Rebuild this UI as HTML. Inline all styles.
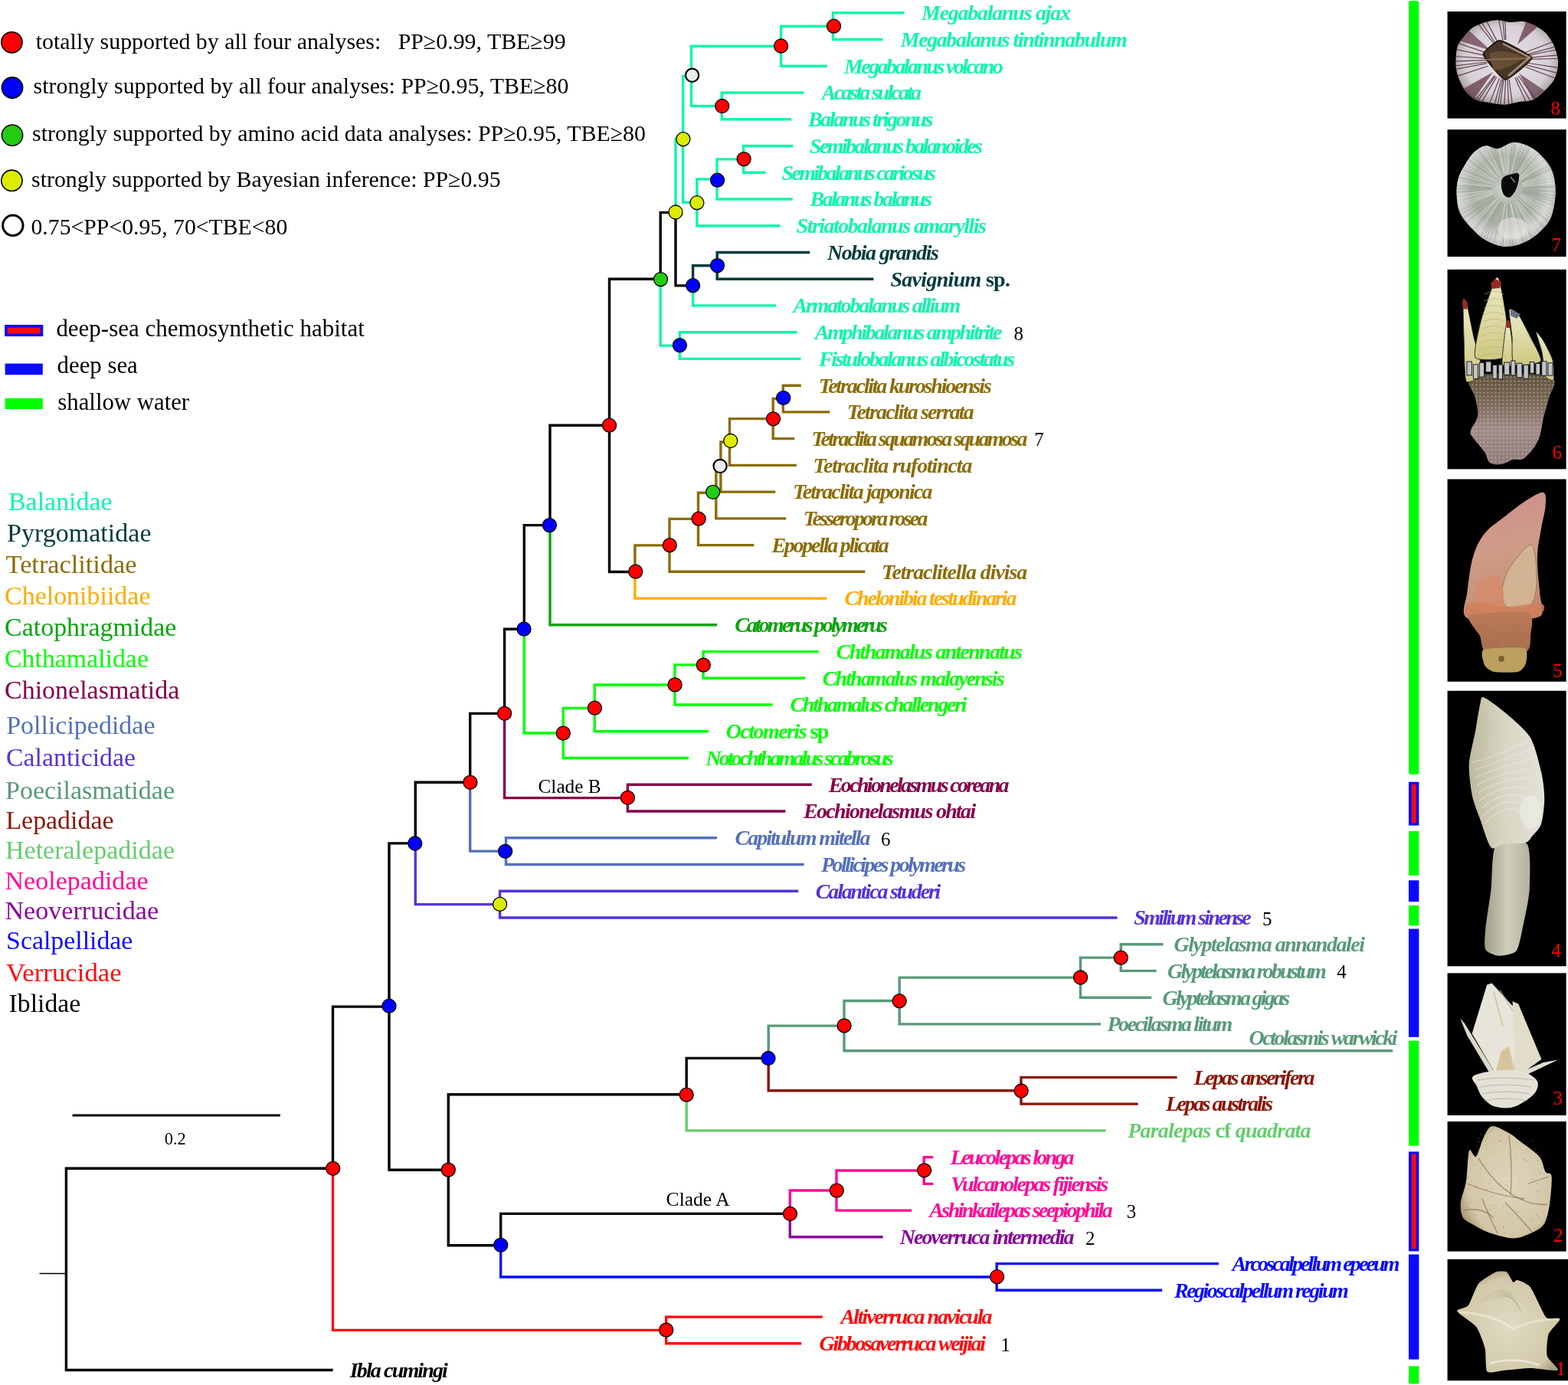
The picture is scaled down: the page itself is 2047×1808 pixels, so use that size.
<!DOCTYPE html><html><head><meta charset="utf-8"><title>Phylogeny</title>
<style>html,body{margin:0;padding:0;background:#fff;overflow:hidden;}svg{display:block;}.sp{font-family:"Liberation Serif",serif;font-weight:bold;font-style:italic;font-size:28px;}.rm{font-family:"Liberation Serif",serif;font-weight:normal;font-style:normal;}</style></head><body>
<svg width="2047" height="1808" viewBox="0 0 2047 1808">
<rect x="0" y="0" width="2047" height="1808" fill="#fff"/>
<g class="rm" font-size="30" fill="#000">
<circle cx="15.4" cy="55.3" r="13.6" fill="#ff0000" stroke="#000" stroke-width="1.6"/>
<text x="46.8" y="64.2" textLength="691.8" lengthAdjust="spacingAndGlyphs">totally supported by all four analyses:   PP≥0.99, TBE≥99</text>
<circle cx="16.0" cy="114.5" r="13.6" fill="#0000ff" stroke="#000" stroke-width="1.6"/>
<text x="43.6" y="122.1" textLength="698.9" lengthAdjust="spacingAndGlyphs">strongly supported by all four analyses: PP≥0.95, TBE≥80</text>
<circle cx="16.0" cy="176.6" r="13.6" fill="#22cc11" stroke="#000" stroke-width="1.6"/>
<text x="42.1" y="184.4" textLength="800.9" lengthAdjust="spacingAndGlyphs">strongly supported by amino acid data analyses: PP≥0.95, TBE≥80</text>
<circle cx="15.4" cy="235.7" r="13.6" fill="#dcec00" stroke="#000" stroke-width="1.6"/>
<text x="41.1" y="244.4" textLength="612.5" lengthAdjust="spacingAndGlyphs">strongly supported by Bayesian inference: PP≥0.95</text>
<circle cx="16.8" cy="294.3" r="13.2" fill="#fff" stroke="#000" stroke-width="3"/>
<text x="40.5" y="305.6" textLength="334.8" lengthAdjust="spacingAndGlyphs">0.75&lt;PP&lt;0.95, 70&lt;TBE&lt;80</text>
</g>
<rect x="6.1" y="424" width="50.2" height="15.1" fill="#0a0aff"/>
<rect x="9.8" y="427.6" width="42.8" height="7.9" fill="#ff0a0a"/>
<rect x="6.6" y="474.6" width="49.2" height="14.7" fill="#0a0aff"/>
<rect x="6.6" y="519.9" width="49.2" height="14.1" fill="#00ff00"/>
<g class="rm" font-size="31" fill="#000">
<text x="73.4" y="439.1" textLength="402.4" lengthAdjust="spacingAndGlyphs">deep-sea chemosynthetic habitat</text>
<text x="74.6" y="486.8" textLength="105.2" lengthAdjust="spacingAndGlyphs">deep sea</text>
<text x="75.3" y="534.5" textLength="171.8" lengthAdjust="spacingAndGlyphs">shallow water</text>
</g>
<g class="rm" font-size="34">
<text x="11.0" y="666.3" fill="#0cf6aa" textLength="135.6" lengthAdjust="spacingAndGlyphs">Balanidae</text>
<text x="9.0" y="706.8" fill="#003a3c" textLength="188.5" lengthAdjust="spacingAndGlyphs">Pyrgomatidae</text>
<text x="7.6" y="747.7" fill="#8b6c06" textLength="170.9" lengthAdjust="spacingAndGlyphs">Tetraclitidae</text>
<text x="6.0" y="789.2" fill="#ffaa00" textLength="190.5" lengthAdjust="spacingAndGlyphs">Chelonibiidae</text>
<text x="6.0" y="829.9" fill="#04a60a" textLength="224.4" lengthAdjust="spacingAndGlyphs">Catophragmidae</text>
<text x="6.0" y="871.0" fill="#00ff00" textLength="187.9" lengthAdjust="spacingAndGlyphs">Chthamalidae</text>
<text x="6.0" y="912.2" fill="#860048" textLength="228.4" lengthAdjust="spacingAndGlyphs">Chionelasmatida</text>
<text x="8.2" y="958.3" fill="#5470bc" textLength="194.3" lengthAdjust="spacingAndGlyphs">Pollicipedidae</text>
<text x="8.1" y="1000.3" fill="#5432dc" textLength="168.8" lengthAdjust="spacingAndGlyphs">Calanticidae</text>
<text x="7.0" y="1042.9" fill="#589a78" textLength="221.0" lengthAdjust="spacingAndGlyphs">Poecilasmatidae</text>
<text x="7.4" y="1082.2" fill="#8b1506" textLength="141.1" lengthAdjust="spacingAndGlyphs">Lepadidae</text>
<text x="7.0" y="1121.3" fill="#66cc6e" textLength="221.0" lengthAdjust="spacingAndGlyphs">Heteralepadidae</text>
<text x="6.5" y="1160.9" fill="#ff0a96" textLength="187.1" lengthAdjust="spacingAndGlyphs">Neolepadidae</text>
<text x="6.5" y="1200.4" fill="#88049a" textLength="200.6" lengthAdjust="spacingAndGlyphs">Neoverrucidae</text>
<text x="8.1" y="1239.3" fill="#0a0aff" textLength="165.3" lengthAdjust="spacingAndGlyphs">Scalpellidae</text>
<text x="8.1" y="1281.2" fill="#ff0a0a" textLength="150.6" lengthAdjust="spacingAndGlyphs">Verrucidae</text>
<text x="11.6" y="1321.4" fill="#000000" textLength="93.6" lengthAdjust="spacingAndGlyphs">Iblidae</text>
</g>
<line x1="94.6" y1="1456" x2="365.8" y2="1456" stroke="#000" stroke-width="3"/>
<text class="rm" x="214.7" y="1493.6" font-size="24" textLength="28" lengthAdjust="spacingAndGlyphs">0.2</text>
<line x1="51.5" y1="1662.6" x2="86.4" y2="1662.6" stroke="#000" stroke-width="1.5"/>
<g fill="none" stroke-width="3.4" stroke-linejoin="miter" stroke-linecap="butt">
<path d="M86.4,1656.9V1525.2H434.5" stroke="#000000"/>
<path d="M434.5,1525.2V1314.1H508.0" stroke="#000000"/>
<path d="M508.0,1314.1V1100.9H542.3" stroke="#000000"/>
<path d="M542.3,1100.9V1021.3H613.7" stroke="#000000"/>
<path d="M613.7,1021.3V931.4H658.6" stroke="#000000"/>
<path d="M658.6,931.4V821.3H684.3" stroke="#000000"/>
<path d="M684.3,821.3V685.6H718.0" stroke="#000000"/>
<path d="M718.0,685.6V555.3H795.5" stroke="#000000"/>
<path d="M795.5,555.3V364.2H862.2" stroke="#000000"/>
<path d="M862.2,364.2V277.4H882.0" stroke="#000000"/>
<path d="M882.0,277.4V181.8H891.6" stroke="#0cf6aa"/>
<path d="M891.6,181.8V99.3H902.5" stroke="#0cf6aa"/>
<path d="M902.5,99.3V60.2H1019.6" stroke="#0cf6aa"/>
<path d="M1019.6,60.2V34.2H1087.5" stroke="#0cf6aa"/>
<path d="M1087.5,34.2V16.8H1180.5" stroke="#0cf6aa"/>
<path d="M1087.5,34.2V51.5H1152.5" stroke="#0cf6aa"/>
<path d="M1019.6,60.2V86.3H1079.7" stroke="#0cf6aa"/>
<path d="M902.5,99.3V138.4H942.2" stroke="#0cf6aa"/>
<path d="M942.2,138.4V121.0H1049.4" stroke="#0cf6aa"/>
<path d="M942.2,138.4V155.8H1033.2" stroke="#0cf6aa"/>
<path d="M891.6,181.8V264.3H909.9" stroke="#0cf6aa"/>
<path d="M909.9,264.3V233.9H936.0" stroke="#0cf6aa"/>
<path d="M936.0,233.9V207.9H970.5" stroke="#0cf6aa"/>
<path d="M970.5,207.9V190.5H1035.3" stroke="#0cf6aa"/>
<path d="M970.5,207.9V225.2H999.5" stroke="#0cf6aa"/>
<path d="M936.0,233.9V260.0H1034.7" stroke="#0cf6aa"/>
<path d="M909.9,264.3V294.7H1018.5" stroke="#0cf6aa"/>
<path d="M882.0,277.4V372.9H904.6" stroke="#000000"/>
<path d="M904.6,372.9V346.8H936.2" stroke="#003a3c"/>
<path d="M936.2,346.8V329.5H1057.2" stroke="#003a3c"/>
<path d="M936.2,346.8V364.2H1140.4" stroke="#003a3c"/>
<path d="M904.6,372.9V398.9H1013.2" stroke="#0cf6aa"/>
<path d="M862.2,364.2V451.1H887.4" stroke="#0cf6aa"/>
<path d="M887.4,451.1V433.7H1040.6" stroke="#0cf6aa"/>
<path d="M887.4,451.1V468.4H1045.5" stroke="#0cf6aa"/>
<path d="M795.5,555.3V746.5H828.9" stroke="#000000"/>
<path d="M828.9,746.5V711.9H874.0" stroke="#8b6c06"/>
<path d="M874.0,711.9V677.4H911.5" stroke="#8b6c06"/>
<path d="M911.5,677.4V643.2H934.8" stroke="#8b6c06"/>
<path d="M934.8,643.2V609.6H940.9" stroke="#8b6c06"/>
<path d="M940.9,609.6V577.0H952.5" stroke="#8b6c06"/>
<path d="M952.5,577.0V546.6H1009.2" stroke="#8b6c06"/>
<path d="M1009.2,546.6V520.5H1022.3" stroke="#8b6c06"/>
<path d="M1022.3,520.5V503.2H1045.8" stroke="#8b6c06"/>
<path d="M1022.3,520.5V537.9H1083.3" stroke="#8b6c06"/>
<path d="M1009.2,546.6V572.6H1037.3" stroke="#8b6c06"/>
<path d="M952.5,577.0V607.4H1039.9" stroke="#8b6c06"/>
<path d="M940.9,609.6V642.1H1012.3" stroke="#8b6c06"/>
<path d="M934.8,643.2V676.9H1026.2" stroke="#8b6c06"/>
<path d="M911.5,677.4V711.6H984.5" stroke="#8b6c06"/>
<path d="M874.0,711.9V746.3H1129.3" stroke="#8b6c06"/>
<path d="M828.9,746.5V781.1H1079.4" stroke="#ffaa00"/>
<path d="M718.0,685.6V815.8H936.0" stroke="#04a60a"/>
<path d="M684.3,821.3V957.0H735.3" stroke="#00ff00"/>
<path d="M735.3,957.0V924.4H776.2" stroke="#00ff00"/>
<path d="M776.2,924.4V894.0H880.9" stroke="#00ff00"/>
<path d="M880.9,894.0V867.9H918.1" stroke="#00ff00"/>
<path d="M918.1,867.9V850.6H1068.7" stroke="#00ff00"/>
<path d="M918.1,867.9V885.3H1051.2" stroke="#00ff00"/>
<path d="M880.9,894.0V920.0H1008.6" stroke="#00ff00"/>
<path d="M776.2,924.4V954.8H925.0" stroke="#00ff00"/>
<path d="M735.3,957.0V989.5H898.9" stroke="#00ff00"/>
<path d="M658.6,931.4V1041.6H819.4" stroke="#860048"/>
<path d="M819.4,1041.6V1024.3H1059.8" stroke="#860048"/>
<path d="M819.4,1041.6V1059.0H1025.4" stroke="#860048"/>
<path d="M613.7,1021.3V1111.1H660.5" stroke="#5470bc"/>
<path d="M660.5,1111.1V1093.7H936.0" stroke="#5470bc"/>
<path d="M660.5,1111.1V1128.5H1049.7" stroke="#5470bc"/>
<path d="M542.3,1100.9V1180.6H652.6" stroke="#5432dc"/>
<path d="M652.6,1180.6V1163.2H1042.2" stroke="#5432dc"/>
<path d="M652.6,1180.6V1198.0H1458.5" stroke="#5432dc"/>
<path d="M508.0,1314.1V1527.2H585.3" stroke="#000000"/>
<path d="M585.3,1527.2V1428.7H896.2" stroke="#000000"/>
<path d="M896.2,1428.7V1381.4H1003.2" stroke="#000000"/>
<path d="M1003.2,1381.4V1339.1H1102.0" stroke="#589a78"/>
<path d="M1102.0,1339.1V1306.5H1174.2" stroke="#589a78"/>
<path d="M1174.2,1306.5V1276.1H1410.5" stroke="#589a78"/>
<path d="M1410.5,1276.1V1250.1H1463.3" stroke="#589a78"/>
<path d="M1463.3,1250.1V1232.7H1518.6" stroke="#589a78"/>
<path d="M1463.3,1250.1V1267.4H1509.6" stroke="#589a78"/>
<path d="M1410.5,1276.1V1302.2H1503.3" stroke="#589a78"/>
<path d="M1174.2,1306.5V1336.9H1437.1" stroke="#589a78"/>
<path d="M1102.0,1339.1V1371.7H1818.2" stroke="#589a78"/>
<path d="M1003.2,1381.4V1423.8H1333.0" stroke="#8b1506"/>
<path d="M1333.0,1423.8V1406.4H1536.6" stroke="#8b1506"/>
<path d="M1333.0,1423.8V1441.1H1485.7" stroke="#8b1506"/>
<path d="M896.2,1428.7V1475.9H1443.5" stroke="#66cc6e"/>
<path d="M585.3,1527.2V1625.7H653.7" stroke="#000000"/>
<path d="M653.7,1625.7V1584.4H1031.3" stroke="#000000"/>
<path d="M1031.3,1584.4V1554.0H1092.0" stroke="#ff0a96"/>
<path d="M1092.0,1554.0V1528.0H1206.2" stroke="#ff0a96"/>
<path d="M1206.2,1528.0V1510.6H1218.3" stroke="#ff0a96"/>
<path d="M1206.2,1528.0V1545.4H1218.3" stroke="#ff0a96"/>
<path d="M1092.0,1554.0V1580.1H1190.2" stroke="#ff0a96"/>
<path d="M1031.3,1584.4V1614.8H1152.6" stroke="#88049a"/>
<path d="M653.7,1625.7V1667.0H1301.2" stroke="#0a0aff"/>
<path d="M1301.2,1667.0V1649.6H1591.0" stroke="#0a0aff"/>
<path d="M1301.2,1667.0V1684.3H1517.2" stroke="#0a0aff"/>
<path d="M434.5,1525.2V1736.4H869.7" stroke="#ff0a0a"/>
<path d="M869.7,1736.4V1719.1H1073.8" stroke="#ff0a0a"/>
<path d="M869.7,1736.4V1753.8H1046.1" stroke="#ff0a0a"/>
<path d="M86.4,1656.9V1788.5H434.7" stroke="#000000"/>
</g>
<text class="rm" x="702.5" y="1035" font-size="25" textLength="82.2" lengthAdjust="spacingAndGlyphs">Clade B</text>
<text class="rm" x="869.6" y="1574" font-size="25" textLength="83" lengthAdjust="spacingAndGlyphs">Clade A</text>
<g stroke="#000" stroke-width="1.3">
<circle cx="1088.5" cy="34.2" r="9.0" fill="#ff0000"/>
<circle cx="1019.6" cy="60.0" r="9.0" fill="#ff0000"/>
<circle cx="942.7" cy="138.5" r="9.0" fill="#ff0000"/>
<circle cx="903.6" cy="98.2" r="8.6" fill="#ececec" stroke-width="2.2"/>
<circle cx="971.1" cy="207.6" r="9.0" fill="#ff0000"/>
<circle cx="936.5" cy="235.2" r="9.0" fill="#0000ff"/>
<circle cx="909.9" cy="264.7" r="9.0" fill="#dcec00"/>
<circle cx="891.9" cy="181.6" r="9.0" fill="#dcec00"/>
<circle cx="936.5" cy="346.6" r="9.0" fill="#0000ff"/>
<circle cx="904.6" cy="372.7" r="9.0" fill="#0000ff"/>
<circle cx="882.0" cy="277.0" r="9.0" fill="#dcec00"/>
<circle cx="887.4" cy="450.7" r="9.0" fill="#0000ff"/>
<circle cx="862.5" cy="364.6" r="9.0" fill="#22cc11"/>
<circle cx="1022.7" cy="519.4" r="9.0" fill="#0000ff"/>
<circle cx="1009.5" cy="546.8" r="9.0" fill="#ff0000"/>
<circle cx="953.8" cy="575.5" r="9.0" fill="#dcec00"/>
<circle cx="940.1" cy="608.4" r="8.6" fill="#ececec" stroke-width="2.2"/>
<circle cx="930.7" cy="642.3" r="9.0" fill="#22cc11"/>
<circle cx="912.1" cy="677.2" r="9.0" fill="#ff0000"/>
<circle cx="874.3" cy="711.7" r="9.0" fill="#ff0000"/>
<circle cx="829.7" cy="746.1" r="9.0" fill="#ff0000"/>
<circle cx="795.5" cy="555.2" r="9.0" fill="#ff0000"/>
<circle cx="717.4" cy="685.6" r="9.0" fill="#0000ff"/>
<circle cx="918.3" cy="868.1" r="9.0" fill="#ff0000"/>
<circle cx="881.1" cy="893.9" r="9.0" fill="#ff0000"/>
<circle cx="776.4" cy="924.2" r="9.0" fill="#ff0000"/>
<circle cx="735.3" cy="957.1" r="9.0" fill="#ff0000"/>
<circle cx="684.0" cy="821.1" r="9.0" fill="#0000ff"/>
<circle cx="819.4" cy="1041.3" r="9.0" fill="#ff0000"/>
<circle cx="658.6" cy="931.3" r="9.0" fill="#ff0000"/>
<circle cx="659.6" cy="1111.3" r="9.0" fill="#0000ff"/>
<circle cx="613.9" cy="1021.3" r="9.0" fill="#ff0000"/>
<circle cx="652.6" cy="1180.4" r="9.0" fill="#dcec00"/>
<circle cx="541.8" cy="1101.0" r="9.0" fill="#0000ff"/>
<circle cx="1463.3" cy="1250.2" r="9.0" fill="#ff0000"/>
<circle cx="1410.6" cy="1276.0" r="9.0" fill="#ff0000"/>
<circle cx="1174.2" cy="1306.7" r="9.0" fill="#ff0000"/>
<circle cx="1102.1" cy="1338.9" r="9.0" fill="#ff0000"/>
<circle cx="1333.2" cy="1424.0" r="9.0" fill="#ff0000"/>
<circle cx="1003.0" cy="1381.5" r="9.0" fill="#0000ff"/>
<circle cx="896.2" cy="1429.1" r="9.0" fill="#ff0000"/>
<circle cx="1206.6" cy="1527.8" r="9.0" fill="#ff0000"/>
<circle cx="1092.3" cy="1554.1" r="9.0" fill="#ff0000"/>
<circle cx="1031.5" cy="1584.5" r="9.0" fill="#ff0000"/>
<circle cx="1301.6" cy="1666.7" r="9.0" fill="#ff0000"/>
<circle cx="653.7" cy="1625.3" r="9.0" fill="#0000ff"/>
<circle cx="585.3" cy="1527.1" r="9.0" fill="#ff0000"/>
<circle cx="508.0" cy="1313.2" r="9.0" fill="#0000ff"/>
<circle cx="869.7" cy="1736.1" r="9.0" fill="#ff0000"/>
<circle cx="434.7" cy="1525.3" r="9.0" fill="#ff0000"/>
</g>
<g class="sp">
<text x="1203.0" y="26.1" fill="#0cf6aa" textLength="195.0" lengthAdjust="spacing">Megabalanus ajax</text>
<text x="1175.8" y="60.8" fill="#0cf6aa" textLength="296.0" lengthAdjust="spacing">Megabalanus tintinnabulum</text>
<text x="1102.0" y="95.6" fill="#0cf6aa" textLength="207.8" lengthAdjust="spacing">Megabalanus volcano</text>
<text x="1072.8" y="130.3" fill="#0cf6aa" textLength="130.2" lengthAdjust="spacing">Acasta sulcata</text>
<text x="1055.0" y="165.1" fill="#0cf6aa" textLength="163.4" lengthAdjust="spacing">Balanus trigonus</text>
<text x="1057.0" y="199.8" fill="#0cf6aa" textLength="226.0" lengthAdjust="spacing">Semibalanus balanoides</text>
<text x="1020.6" y="234.5" fill="#0cf6aa" textLength="201.2" lengthAdjust="spacing">Semibalanus cariosus</text>
<text x="1057.6" y="269.3" fill="#0cf6aa" textLength="159.4" lengthAdjust="spacing">Balanus balanus</text>
<text x="1039.8" y="304.0" fill="#0cf6aa" textLength="248.0" lengthAdjust="spacing">Striatobalanus amaryllis</text>
<text x="1080.0" y="338.8" fill="#003a3c" textLength="146.0" lengthAdjust="spacing">Nobia grandis</text>
<text x="1162.4" y="373.5" fill="#003a3c" textLength="156.6" lengthAdjust="spacing">Savignium<tspan font-style="normal"> sp.</tspan></text>
<text x="1035.4" y="408.2" fill="#0cf6aa" textLength="219.0" lengthAdjust="spacing">Armatobalanus allium</text>
<text x="1063.8" y="443.0" fill="#0cf6aa" textLength="244.6" lengthAdjust="spacing">Amphibalanus amphitrite</text>
<text x="1069.0" y="477.7" fill="#0cf6aa" textLength="256.2" lengthAdjust="spacing">Fistulobalanus albicostatus</text>
<text x="1068.8" y="512.5" fill="#8b6c06" textLength="226.0" lengthAdjust="spacing">Tetraclita kuroshioensis</text>
<text x="1105.8" y="547.2" fill="#8b6c06" textLength="166.0" lengthAdjust="spacing">Tetraclita serrata</text>
<text x="1059.6" y="581.9" fill="#8b6c06" textLength="281.8" lengthAdjust="spacing">Tetraclita squamosa squamosa</text>
<text x="1061.6" y="616.7" fill="#8b6c06" textLength="207.8" lengthAdjust="spacing">Tetraclita rufotincta</text>
<text x="1035.0" y="651.4" fill="#8b6c06" textLength="182.4" lengthAdjust="spacing">Tetraclita japonica</text>
<text x="1048.8" y="686.2" fill="#8b6c06" textLength="162.6" lengthAdjust="spacing">Tesseropora rosea</text>
<text x="1007.4" y="720.9" fill="#8b6c06" textLength="153.4" lengthAdjust="spacing">Epopella plicata</text>
<text x="1151.0" y="755.6" fill="#8b6c06" textLength="190.2" lengthAdjust="spacing">Tetraclitella divisa</text>
<text x="1102.6" y="790.4" fill="#ffaa00" textLength="224.8" lengthAdjust="spacing">Chelonibia testudinaria</text>
<text x="959.2" y="825.1" fill="#04a60a" textLength="199.6" lengthAdjust="spacing">Catomerus polymerus</text>
<text x="1091.8" y="859.9" fill="#00ff00" textLength="243.2" lengthAdjust="spacing">Chthamalus antennatus</text>
<text x="1073.8" y="894.6" fill="#00ff00" textLength="237.8" lengthAdjust="spacing">Chthamalus malayensis</text>
<text x="1031.6" y="929.3" fill="#00ff00" textLength="231.0" lengthAdjust="spacing">Chthamalus challengeri</text>
<text x="947.8" y="964.1" fill="#00ff00" textLength="134.6" lengthAdjust="spacing">Octomeris<tspan font-style="normal"> sp</tspan></text>
<text x="921.4" y="998.8" fill="#00ff00" textLength="245.2" lengthAdjust="spacing">Notochthamalus scabrosus</text>
<text x="1081.8" y="1033.6" fill="#860048" textLength="235.8" lengthAdjust="spacing">Eochionelasmus coreana</text>
<text x="1049.0" y="1068.3" fill="#860048" textLength="225.2" lengthAdjust="spacing">Eochionelasmus ohtai</text>
<text x="959.6" y="1103.0" fill="#5470bc" textLength="177.0" lengthAdjust="spacing">Capitulum mitella</text>
<text x="1072.0" y="1137.8" fill="#5470bc" textLength="189.2" lengthAdjust="spacing">Pollicipes polymerus</text>
<text x="1064.8" y="1172.5" fill="#5432dc" textLength="163.6" lengthAdjust="spacing">Calantica studeri</text>
<text x="1480.2" y="1207.3" fill="#5432dc" textLength="153.6" lengthAdjust="spacing">Smilium sinense</text>
<text x="1532.4" y="1242.0" fill="#589a78" textLength="249.6" lengthAdjust="spacing">Glyptelasma annandalei</text>
<text x="1524.0" y="1276.7" fill="#589a78" textLength="207.8" lengthAdjust="spacing">Glyptelasma robustum</text>
<text x="1517.6" y="1311.5" fill="#589a78" textLength="166.6" lengthAdjust="spacing">Glyptelasma gigas</text>
<text x="1445.4" y="1346.2" fill="#589a78" textLength="164.0" lengthAdjust="spacing">Poecilasma litum</text>
<text x="1630.6" y="1364.2" fill="#589a78" textLength="194.0" lengthAdjust="spacing">Octolasmis warwicki</text>
<text x="1558.4" y="1415.7" fill="#8b1506" textLength="158.2" lengthAdjust="spacing">Lepas anserifera</text>
<text x="1522.0" y="1450.4" fill="#8b1506" textLength="140.2" lengthAdjust="spacing">Lepas australis</text>
<text x="1472.2" y="1485.2" fill="#66cc6e" textLength="239.4" lengthAdjust="spacing">Paralepas <tspan font-style="normal">cf</tspan> quadrata</text>
<text x="1240.8" y="1519.9" fill="#ff0a96" textLength="161.8" lengthAdjust="spacing">Leucolepas longa</text>
<text x="1241.2" y="1554.7" fill="#ff0a96" textLength="206.0" lengthAdjust="spacing">Vulcanolepas fijiensis</text>
<text x="1213.2" y="1589.4" fill="#ff0a96" textLength="239.6" lengthAdjust="spacing">Ashinkailepas seepiophila</text>
<text x="1174.8" y="1624.1" fill="#88049a" textLength="227.8" lengthAdjust="spacing">Neoverruca intermedia</text>
<text x="1608.6" y="1658.9" fill="#0a0aff" textLength="219.0" lengthAdjust="spacing">Arcoscalpellum epeeum</text>
<text x="1533.0" y="1693.6" fill="#0a0aff" textLength="227.8" lengthAdjust="spacing">Regioscalpellum regium</text>
<text x="1097.4" y="1728.4" fill="#ff0a0a" textLength="198.2" lengthAdjust="spacing">Altiverruca navicula</text>
<text x="1069.6" y="1763.1" fill="#ff0a0a" textLength="217.4" lengthAdjust="spacing">Gibbosaverruca weijiai</text>
<text x="456.8" y="1797.8" fill="#000000" textLength="128.0" lengthAdjust="spacing">Ibla cumingi</text>
</g>
<g class="rm" font-size="25" fill="#000">
<text x="1323.5" y="443.5">8</text>
<text x="1350.3" y="582.4">7</text>
<text x="1149.9" y="1103.5">6</text>
<text x="1648.1" y="1207.8">5</text>
<text x="1745.3" y="1277.2">4</text>
<text x="1470.7" y="1589.9">3</text>
<text x="1416.9" y="1624.6">2</text>
<text x="1306.6" y="1763.6">1</text>
</g>
<rect x="1839.0" y="1.0" width="13.4" height="1010.1" fill="#00ff00" rx="3"/>
<rect x="1839.0" y="1020.7" width="13.4" height="56.9" fill="#0a0aff"/>
<rect x="1842.8" y="1023.9" width="5.8" height="50.5" fill="#ff0a0a"/>
<rect x="1839.0" y="1085.0" width="13.4" height="57.8" fill="#00ff00"/>
<rect x="1839.0" y="1149.2" width="13.4" height="27.9" fill="#0a0aff"/>
<rect x="1839.0" y="1182.0" width="13.4" height="26.3" fill="#00ff00"/>
<rect x="1839.0" y="1212.5" width="13.4" height="141.3" fill="#0a0aff"/>
<rect x="1839.0" y="1358.6" width="13.4" height="137.0" fill="#00ff00"/>
<rect x="1839.0" y="1503.4" width="13.4" height="130.0" fill="#0a0aff"/>
<rect x="1842.8" y="1506.6" width="5.8" height="123.6" fill="#ff0a0a"/>
<rect x="1839.0" y="1637.5" width="13.4" height="137.1" fill="#0a0aff"/>
<rect x="1839.0" y="1783.4" width="13.4" height="23.0" fill="#00ff00"/>
<rect x="1889.6" y="15.0" width="155.0" height="139.6" fill="#000"/>
<defs><radialGradient id="g8" cx="0.5" cy="0.48" r="0.55"><stop offset="0" stop-color="#e6e2e8"/><stop offset="0.75" stop-color="#d6d0d6"/><stop offset="0.93" stop-color="#b0a8a8"/><stop offset="1" stop-color="#6e6458"/></radialGradient><clipPath id="c8"><path d="M1920.7,37.4 C1924.4,34.5 1931.6,31.5 1936.0,30.0 C1940.4,28.5 1949.2,26.3 1954.0,26.2 C1958.8,26.1 1967.3,28.8 1972.0,29.0 C1976.7,29.2 1984.5,27.2 1988.9,27.9 C1993.3,28.6 2001.1,31.9 2005.0,34.0 C2008.9,36.1 2014.9,40.1 2018.0,43.3 C2021.1,46.5 2025.9,53.6 2028.0,58.0 C2030.1,62.4 2033.1,72.0 2033.8,76.5 C2034.5,81.0 2033.8,88.1 2033.0,92.0 C2032.2,95.9 2030.3,102.0 2028.0,105.6 C2025.7,109.2 2019.5,115.7 2016.0,119.0 C2012.5,122.3 2005.8,128.6 2001.4,130.5 C1997.0,132.4 1988.0,132.2 1983.0,133.0 C1978.0,133.8 1969.2,136.6 1964.0,136.7 C1958.8,136.8 1949.0,134.8 1944.0,134.0 C1939.0,133.2 1930.7,132.5 1926.6,130.5 C1922.5,128.5 1915.8,122.3 1913.0,119.0 C1910.2,115.7 1907.4,109.5 1905.8,105.6 C1904.2,101.7 1901.7,94.4 1901.0,90.0 C1900.3,85.6 1900.5,76.3 1900.8,72.3 C1901.1,68.3 1902.0,62.8 1903.0,60.0 C1904.0,57.2 1905.9,54.6 1908.3,51.6 C1910.7,48.6 1917.0,40.3 1920.7,37.4Z"/></clipPath></defs><path d="M1920.7,37.4 C1924.4,34.5 1931.6,31.5 1936.0,30.0 C1940.4,28.5 1949.2,26.3 1954.0,26.2 C1958.8,26.1 1967.3,28.8 1972.0,29.0 C1976.7,29.2 1984.5,27.2 1988.9,27.9 C1993.3,28.6 2001.1,31.9 2005.0,34.0 C2008.9,36.1 2014.9,40.1 2018.0,43.3 C2021.1,46.5 2025.9,53.6 2028.0,58.0 C2030.1,62.4 2033.1,72.0 2033.8,76.5 C2034.5,81.0 2033.8,88.1 2033.0,92.0 C2032.2,95.9 2030.3,102.0 2028.0,105.6 C2025.7,109.2 2019.5,115.7 2016.0,119.0 C2012.5,122.3 2005.8,128.6 2001.4,130.5 C1997.0,132.4 1988.0,132.2 1983.0,133.0 C1978.0,133.8 1969.2,136.6 1964.0,136.7 C1958.8,136.8 1949.0,134.8 1944.0,134.0 C1939.0,133.2 1930.7,132.5 1926.6,130.5 C1922.5,128.5 1915.8,122.3 1913.0,119.0 C1910.2,115.7 1907.4,109.5 1905.8,105.6 C1904.2,101.7 1901.7,94.4 1901.0,90.0 C1900.3,85.6 1900.5,76.3 1900.8,72.3 C1901.1,68.3 1902.0,62.8 1903.0,60.0 C1904.0,57.2 1905.9,54.6 1908.3,51.6 C1910.7,48.6 1917.0,40.3 1920.7,37.4Z" fill="url(#g8)"/><g clip-path="url(#c8)"><path d="M1946.2,66.0 L1887.6,47.5 L1900.9,24.5Z" fill="#6a4250" opacity="0.75"/><path d="M1980.8,58.3 L2002.9,1.0 L2027.1,17.9Z" fill="#6a4250" opacity="0.8"/><path d="M1983.1,95.8 L2034.0,130.3 L2012.0,150.1Z" fill="#6a4250" opacity="0.75"/><path d="M1949.2,94.1 L1913.5,144.1 L1895.7,124.3Z" fill="#6a4250" opacity="0.8"/><line x1="1950.8" y1="57.7" x2="1914.1" y2="11.5" stroke="#4e2a38" stroke-width="1.2" opacity="0.85"/><line x1="1952.4" y1="56.5" x2="1919.4" y2="7.6" stroke="#4e2a38" stroke-width="1.2" opacity="0.85"/><line x1="1955.0" y1="54.9" x2="1927.7" y2="2.6" stroke="#4e2a38" stroke-width="1.2" opacity="0.85"/><line x1="1961.9" y1="52.5" x2="1950.4" y2="-5.4" stroke="#4e2a38" stroke-width="1.2" opacity="0.85"/><line x1="1964.3" y1="52.1" x2="1958.3" y2="-6.6" stroke="#4e2a38" stroke-width="1.2" opacity="0.85"/><line x1="1965.9" y1="52.0" x2="1963.4" y2="-6.9" stroke="#4e2a38" stroke-width="1.2" opacity="0.85"/><line x1="1991.2" y1="68.5" x2="2046.2" y2="47.1" stroke="#4e2a38" stroke-width="1.2" opacity="0.85"/><line x1="1992.1" y1="71.3" x2="2049.1" y2="56.0" stroke="#4e2a38" stroke-width="1.2" opacity="0.85"/><line x1="1992.5" y1="72.9" x2="2050.3" y2="61.2" stroke="#4e2a38" stroke-width="1.2" opacity="0.85"/><line x1="1992.9" y1="75.6" x2="2051.7" y2="70.3" stroke="#4e2a38" stroke-width="1.2" opacity="0.85"/><line x1="1993.0" y1="77.4" x2="2052.0" y2="76.1" stroke="#4e2a38" stroke-width="1.2" opacity="0.85"/><line x1="1992.7" y1="82.0" x2="2051.0" y2="91.0" stroke="#4e2a38" stroke-width="1.2" opacity="0.85"/><line x1="1992.1" y1="84.6" x2="2049.2" y2="99.7" stroke="#4e2a38" stroke-width="1.2" opacity="0.85"/><line x1="1991.3" y1="87.3" x2="2046.4" y2="108.4" stroke="#4e2a38" stroke-width="1.2" opacity="0.85"/><line x1="1970.2" y1="103.8" x2="1977.5" y2="162.3" stroke="#4e2a38" stroke-width="1.2" opacity="0.85"/><line x1="1968.1" y1="104.0" x2="1970.7" y2="162.9" stroke="#4e2a38" stroke-width="1.2" opacity="0.85"/><line x1="1965.6" y1="104.0" x2="1962.5" y2="162.9" stroke="#4e2a38" stroke-width="1.2" opacity="0.85"/><line x1="1963.2" y1="103.7" x2="1954.7" y2="162.1" stroke="#4e2a38" stroke-width="1.2" opacity="0.85"/><line x1="1961.8" y1="103.5" x2="1950.0" y2="161.3" stroke="#4e2a38" stroke-width="1.2" opacity="0.85"/><line x1="1960.1" y1="103.1" x2="1944.5" y2="160.0" stroke="#4e2a38" stroke-width="1.2" opacity="0.85"/><line x1="1957.5" y1="102.2" x2="1935.9" y2="157.1" stroke="#4e2a38" stroke-width="1.2" opacity="0.85"/><line x1="1942.3" y1="86.2" x2="1886.3" y2="104.8" stroke="#4e2a38" stroke-width="1.2" opacity="0.85"/><line x1="1941.4" y1="82.7" x2="1883.4" y2="93.4" stroke="#4e2a38" stroke-width="1.2" opacity="0.85"/><line x1="1941.2" y1="81.0" x2="1882.6" y2="87.8" stroke="#4e2a38" stroke-width="1.2" opacity="0.85"/><line x1="1941.0" y1="78.7" x2="1882.0" y2="80.3" stroke="#4e2a38" stroke-width="1.2" opacity="0.85"/><line x1="1941.1" y1="76.3" x2="1882.2" y2="72.3" stroke="#4e2a38" stroke-width="1.2" opacity="0.85"/><line x1="1941.5" y1="72.8" x2="1883.7" y2="61.2" stroke="#4e2a38" stroke-width="1.2" opacity="0.85"/><line x1="1942.4" y1="69.6" x2="1886.6" y2="50.4" stroke="#4e2a38" stroke-width="1.2" opacity="0.85"/><line x1="1982.3" y1="99.0" x2="2016.9" y2="146.8" stroke="#4e2a38" stroke-width="1.2" opacity="0.85"/><line x1="1979.9" y1="100.6" x2="2009.2" y2="151.8" stroke="#4e2a38" stroke-width="1.2" opacity="0.85"/><line x1="1977.8" y1="101.6" x2="2002.4" y2="155.3" stroke="#4e2a38" stroke-width="1.2" opacity="0.85"/><line x1="1953.8" y1="100.4" x2="1923.7" y2="151.2" stroke="#4e2a38" stroke-width="1.2" opacity="0.85"/><line x1="1952.0" y1="99.3" x2="1918.1" y2="147.5" stroke="#4e2a38" stroke-width="1.2" opacity="0.85"/><line x1="1951.1" y1="98.6" x2="1915.0" y2="145.3" stroke="#4e2a38" stroke-width="1.2" opacity="0.85"/></g><path d="M1936.5,71.0 C1936.0,67.6 1953.8,52.7 1958.0,53.0 C1962.2,53.3 1999.2,72.1 1999.7,75.5 C2000.2,78.9 1969.2,104.3 1965.0,104.0 C1960.8,103.7 1937.0,74.4 1936.5,71.0Z" fill="#4a3628" stroke="#1e1410" stroke-width="1.8"/><path d="M1944,70 Q1962,62 1990,75 Q1970,90 1950,92Z" fill="#6e5438" opacity="0.8"/><path d="M1940,78 L1996,76" stroke="#8a7a52" stroke-width="1.8" opacity="0.8"/><path d="M1962,57 L1997,75 L1969,99" fill="none" stroke="#b0a088" stroke-width="2.4" opacity="0.85"/>
<text class="rm" x="2024.5" y="149.6" font-size="25" fill="#ff0000">8</text>
<rect x="1889.6" y="169.1" width="155.0" height="166.0" fill="#000"/>
<defs><radialGradient id="g7" cx="0.48" cy="0.45" r="0.55"><stop offset="0" stop-color="#d4d8d0"/><stop offset="0.25" stop-color="#b2b8ae"/><stop offset="0.6" stop-color="#aab2a6"/><stop offset="0.85" stop-color="#d2d4d0"/><stop offset="1" stop-color="#b8b8b4"/></radialGradient><clipPath id="c7"><path d="M1939.3,190.2 C1944.4,189.4 1948.8,194.8 1954.8,194.1 C1960.8,193.4 1968.3,186.4 1975.2,185.9 C1982.1,185.4 1990.0,188.3 1996.0,191.0 C2002.0,193.7 2006.3,197.1 2011.1,201.9 C2015.9,206.7 2021.8,213.2 2025.0,220.0 C2028.2,226.8 2029.8,234.6 2030.5,242.6 C2031.2,250.6 2030.6,259.9 2029.0,268.0 C2027.4,276.1 2026.1,283.6 2020.8,291.1 C2015.5,298.6 2005.9,307.8 1997.0,313.0 C1988.1,318.2 1976.6,321.8 1967.4,322.1 C1958.2,322.4 1949.3,318.6 1942.0,315.0 C1934.7,311.4 1929.8,307.0 1923.8,300.8 C1917.8,294.6 1909.7,286.1 1906.0,278.0 C1902.3,269.9 1901.8,260.0 1901.5,252.3 C1901.2,244.6 1902.2,238.2 1904.0,232.0 C1905.8,225.8 1908.9,220.9 1912.2,215.4 C1915.5,209.9 1919.5,203.2 1924.0,199.0 C1928.5,194.8 1934.2,191.0 1939.3,190.2Z"/></clipPath></defs><path d="M1939.3,190.2 C1944.4,189.4 1948.8,194.8 1954.8,194.1 C1960.8,193.4 1968.3,186.4 1975.2,185.9 C1982.1,185.4 1990.0,188.3 1996.0,191.0 C2002.0,193.7 2006.3,197.1 2011.1,201.9 C2015.9,206.7 2021.8,213.2 2025.0,220.0 C2028.2,226.8 2029.8,234.6 2030.5,242.6 C2031.2,250.6 2030.6,259.9 2029.0,268.0 C2027.4,276.1 2026.1,283.6 2020.8,291.1 C2015.5,298.6 2005.9,307.8 1997.0,313.0 C1988.1,318.2 1976.6,321.8 1967.4,322.1 C1958.2,322.4 1949.3,318.6 1942.0,315.0 C1934.7,311.4 1929.8,307.0 1923.8,300.8 C1917.8,294.6 1909.7,286.1 1906.0,278.0 C1902.3,269.9 1901.8,260.0 1901.5,252.3 C1901.2,244.6 1902.2,238.2 1904.0,232.0 C1905.8,225.8 1908.9,220.9 1912.2,215.4 C1915.5,209.9 1919.5,203.2 1924.0,199.0 C1928.5,194.8 1934.2,191.0 1939.3,190.2Z" fill="url(#g7)"/><g clip-path="url(#c7)"><line x1="1988.0" y1="245.5" x2="2048.0" y2="244.2" stroke="#8e948c" stroke-width="1" opacity="0.45"/><line x1="1988.0" y1="247.4" x2="2047.8" y2="251.6" stroke="#7d857b" stroke-width="1" opacity="0.45"/><line x1="1987.8" y1="249.1" x2="2047.1" y2="258.3" stroke="#7d857b" stroke-width="1" opacity="0.45"/><line x1="1987.5" y1="250.2" x2="2046.2" y2="263.0" stroke="#7d857b" stroke-width="1" opacity="0.45"/><line x1="1987.3" y1="251.4" x2="2045.1" y2="267.5" stroke="#8e948c" stroke-width="1" opacity="0.45"/><line x1="1986.7" y1="253.1" x2="2042.7" y2="274.5" stroke="#8e948c" stroke-width="1" opacity="0.45"/><line x1="1986.4" y1="253.7" x2="2041.8" y2="276.9" stroke="#f4f4f2" stroke-width="1" opacity="0.45"/><line x1="1985.6" y1="255.4" x2="2038.6" y2="283.7" stroke="#f4f4f2" stroke-width="1" opacity="0.45"/><line x1="1984.8" y1="256.8" x2="2035.3" y2="289.2" stroke="#f4f4f2" stroke-width="1" opacity="0.45"/><line x1="1984.1" y1="257.8" x2="2032.5" y2="293.4" stroke="#eef0ec" stroke-width="1" opacity="0.45"/><line x1="1983.6" y1="258.5" x2="2030.3" y2="296.2" stroke="#7d857b" stroke-width="1" opacity="0.45"/><line x1="1982.6" y1="259.6" x2="2026.5" y2="300.6" stroke="#f4f4f2" stroke-width="1" opacity="0.45"/><line x1="1981.7" y1="260.6" x2="2022.6" y2="304.5" stroke="#7d857b" stroke-width="1" opacity="0.45"/><line x1="1980.4" y1="261.7" x2="2017.5" y2="308.8" stroke="#eef0ec" stroke-width="1" opacity="0.45"/><line x1="1979.0" y1="262.7" x2="2011.8" y2="312.9" stroke="#f4f4f2" stroke-width="1" opacity="0.45"/><line x1="1978.1" y1="263.2" x2="2008.6" y2="314.9" stroke="#f4f4f2" stroke-width="1" opacity="0.45"/><line x1="1976.7" y1="264.0" x2="2002.7" y2="318.1" stroke="#7d857b" stroke-width="1" opacity="0.45"/><line x1="1975.9" y1="264.4" x2="1999.6" y2="319.5" stroke="#eef0ec" stroke-width="1" opacity="0.45"/><line x1="1973.7" y1="265.2" x2="1990.9" y2="322.6" stroke="#7d857b" stroke-width="1" opacity="0.45"/><line x1="1972.6" y1="265.5" x2="1986.6" y2="323.8" stroke="#eef0ec" stroke-width="1" opacity="0.45"/><line x1="1971.9" y1="265.6" x2="1983.7" y2="324.4" stroke="#f4f4f2" stroke-width="1" opacity="0.45"/><line x1="1969.9" y1="265.9" x2="1975.7" y2="325.6" stroke="#7d857b" stroke-width="1" opacity="0.45"/><line x1="1968.9" y1="266.0" x2="1971.7" y2="325.9" stroke="#7d857b" stroke-width="1" opacity="0.45"/><line x1="1966.9" y1="266.0" x2="1963.6" y2="325.9" stroke="#f4f4f2" stroke-width="1" opacity="0.45"/><line x1="1966.4" y1="265.9" x2="1961.6" y2="325.7" stroke="#7d857b" stroke-width="1" opacity="0.45"/><line x1="1964.7" y1="265.7" x2="1954.7" y2="324.9" stroke="#eef0ec" stroke-width="1" opacity="0.45"/><line x1="1963.2" y1="265.4" x2="1948.7" y2="323.6" stroke="#8e948c" stroke-width="1" opacity="0.45"/><line x1="1961.6" y1="264.9" x2="1942.2" y2="321.7" stroke="#8e948c" stroke-width="1" opacity="0.45"/><line x1="1960.3" y1="264.4" x2="1937.1" y2="319.8" stroke="#7d857b" stroke-width="1" opacity="0.45"/><line x1="1959.3" y1="264.0" x2="1933.3" y2="318.1" stroke="#7d857b" stroke-width="1" opacity="0.45"/><line x1="1958.4" y1="263.5" x2="1929.5" y2="316.1" stroke="#7d857b" stroke-width="1" opacity="0.45"/><line x1="1956.9" y1="262.6" x2="1923.6" y2="312.6" stroke="#f4f4f2" stroke-width="1" opacity="0.45"/><line x1="1955.4" y1="261.5" x2="1917.5" y2="308.0" stroke="#7d857b" stroke-width="1" opacity="0.45"/><line x1="1954.3" y1="260.6" x2="1913.3" y2="304.4" stroke="#f4f4f2" stroke-width="1" opacity="0.45"/><line x1="1953.5" y1="259.7" x2="1909.9" y2="300.9" stroke="#f4f4f2" stroke-width="1" opacity="0.45"/><line x1="1952.6" y1="258.7" x2="1906.2" y2="296.8" stroke="#7d857b" stroke-width="1" opacity="0.45"/><line x1="1951.5" y1="257.4" x2="1902.2" y2="291.5" stroke="#8e948c" stroke-width="1" opacity="0.45"/><line x1="1951.3" y1="257.0" x2="1901.1" y2="289.9" stroke="#8e948c" stroke-width="1" opacity="0.45"/><line x1="1950.5" y1="255.6" x2="1897.9" y2="284.5" stroke="#8e948c" stroke-width="1" opacity="0.45"/><line x1="1949.9" y1="254.6" x2="1895.8" y2="280.4" stroke="#8e948c" stroke-width="1" opacity="0.45"/><line x1="1949.3" y1="253.1" x2="1893.2" y2="274.3" stroke="#eef0ec" stroke-width="1" opacity="0.45"/><line x1="1948.9" y1="251.9" x2="1891.5" y2="269.5" stroke="#f4f4f2" stroke-width="1" opacity="0.45"/><line x1="1948.4" y1="250.0" x2="1889.7" y2="262.2" stroke="#f4f4f2" stroke-width="1" opacity="0.45"/><line x1="1948.1" y1="248.3" x2="1888.5" y2="255.3" stroke="#eef0ec" stroke-width="1" opacity="0.45"/><line x1="1948.1" y1="247.4" x2="1888.2" y2="251.8" stroke="#7d857b" stroke-width="1" opacity="0.45"/><line x1="1948.0" y1="246.1" x2="1888.0" y2="246.4" stroke="#7d857b" stroke-width="1" opacity="0.45"/><line x1="1948.0" y1="245.0" x2="1888.1" y2="242.1" stroke="#7d857b" stroke-width="1" opacity="0.45"/><line x1="1948.1" y1="243.7" x2="1888.5" y2="236.7" stroke="#eef0ec" stroke-width="1" opacity="0.45"/><line x1="1948.5" y1="241.3" x2="1890.2" y2="227.4" stroke="#7d857b" stroke-width="1" opacity="0.45"/><line x1="1948.7" y1="240.8" x2="1890.7" y2="225.3" stroke="#f4f4f2" stroke-width="1" opacity="0.45"/><line x1="1949.2" y1="239.1" x2="1893.0" y2="218.2" stroke="#eef0ec" stroke-width="1" opacity="0.45"/><line x1="1949.5" y1="238.3" x2="1894.1" y2="215.4" stroke="#8e948c" stroke-width="1" opacity="0.45"/><line x1="1950.4" y1="236.6" x2="1897.4" y2="208.3" stroke="#f4f4f2" stroke-width="1" opacity="0.45"/><line x1="1951.1" y1="235.3" x2="1900.4" y2="203.2" stroke="#eef0ec" stroke-width="1" opacity="0.45"/><line x1="1952.1" y1="233.9" x2="1904.2" y2="197.7" stroke="#7d857b" stroke-width="1" opacity="0.45"/><line x1="1952.4" y1="233.4" x2="1905.8" y2="195.7" stroke="#f4f4f2" stroke-width="1" opacity="0.45"/><line x1="1953.9" y1="231.8" x2="1911.8" y2="189.1" stroke="#f4f4f2" stroke-width="1" opacity="0.45"/><line x1="1954.6" y1="231.2" x2="1914.4" y2="186.6" stroke="#eef0ec" stroke-width="1" opacity="0.45"/><line x1="1956.0" y1="230.0" x2="1919.9" y2="182.1" stroke="#7d857b" stroke-width="1" opacity="0.45"/><line x1="1956.8" y1="229.4" x2="1923.2" y2="179.7" stroke="#f4f4f2" stroke-width="1" opacity="0.45"/><line x1="1957.6" y1="228.9" x2="1926.5" y2="177.6" stroke="#eef0ec" stroke-width="1" opacity="0.45"/><line x1="1959.5" y1="227.9" x2="1933.9" y2="173.6" stroke="#f4f4f2" stroke-width="1" opacity="0.45"/><line x1="1960.5" y1="227.5" x2="1937.9" y2="171.9" stroke="#8e948c" stroke-width="1" opacity="0.45"/><line x1="1961.8" y1="227.0" x2="1943.3" y2="169.9" stroke="#8e948c" stroke-width="1" opacity="0.45"/><line x1="1963.6" y1="226.5" x2="1950.5" y2="167.9" stroke="#f4f4f2" stroke-width="1" opacity="0.45"/><line x1="1964.2" y1="226.4" x2="1952.7" y2="167.5" stroke="#eef0ec" stroke-width="1" opacity="0.45"/><line x1="1966.2" y1="226.1" x2="1960.7" y2="166.3" stroke="#f4f4f2" stroke-width="1" opacity="0.45"/><line x1="1967.8" y1="226.0" x2="1967.2" y2="166.0" stroke="#eef0ec" stroke-width="1" opacity="0.45"/><line x1="1968.9" y1="226.0" x2="1971.6" y2="166.1" stroke="#f4f4f2" stroke-width="1" opacity="0.45"/><line x1="1970.1" y1="226.1" x2="1976.4" y2="166.4" stroke="#8e948c" stroke-width="1" opacity="0.45"/><line x1="1971.3" y1="226.3" x2="1981.3" y2="167.1" stroke="#8e948c" stroke-width="1" opacity="0.45"/><line x1="1972.9" y1="226.6" x2="1987.5" y2="168.4" stroke="#f4f4f2" stroke-width="1" opacity="0.45"/><line x1="1974.3" y1="227.0" x2="1993.3" y2="170.1" stroke="#8e948c" stroke-width="1" opacity="0.45"/><line x1="1975.8" y1="227.6" x2="1999.2" y2="172.3" stroke="#7d857b" stroke-width="1" opacity="0.45"/><line x1="1977.0" y1="228.1" x2="2004.0" y2="174.5" stroke="#8e948c" stroke-width="1" opacity="0.45"/><line x1="1977.7" y1="228.5" x2="2006.9" y2="176.1" stroke="#7d857b" stroke-width="1" opacity="0.45"/><line x1="1979.1" y1="229.3" x2="2012.2" y2="179.3" stroke="#eef0ec" stroke-width="1" opacity="0.45"/><line x1="1980.7" y1="230.6" x2="2018.9" y2="184.2" stroke="#f4f4f2" stroke-width="1" opacity="0.45"/><line x1="1981.4" y1="231.1" x2="2021.4" y2="186.5" stroke="#8e948c" stroke-width="1" opacity="0.45"/><line x1="1982.5" y1="232.3" x2="2026.1" y2="191.0" stroke="#f4f4f2" stroke-width="1" opacity="0.45"/><line x1="1983.3" y1="233.1" x2="2029.1" y2="194.4" stroke="#f4f4f2" stroke-width="1" opacity="0.45"/><line x1="1984.5" y1="234.6" x2="2033.8" y2="200.5" stroke="#f4f4f2" stroke-width="1" opacity="0.45"/><line x1="1984.7" y1="235.0" x2="2034.9" y2="202.1" stroke="#eef0ec" stroke-width="1" opacity="0.45"/><line x1="1985.5" y1="236.4" x2="2038.1" y2="207.4" stroke="#8e948c" stroke-width="1" opacity="0.45"/><line x1="1986.2" y1="237.7" x2="2040.8" y2="212.8" stroke="#7d857b" stroke-width="1" opacity="0.45"/><line x1="1986.8" y1="239.3" x2="2043.4" y2="219.1" stroke="#eef0ec" stroke-width="1" opacity="0.45"/><line x1="1987.2" y1="240.5" x2="2044.9" y2="223.9" stroke="#f4f4f2" stroke-width="1" opacity="0.45"/><line x1="1987.6" y1="242.1" x2="2046.5" y2="230.6" stroke="#eef0ec" stroke-width="1" opacity="0.45"/><line x1="1987.9" y1="243.6" x2="2047.4" y2="236.3" stroke="#eef0ec" stroke-width="1" opacity="0.45"/><line x1="1988.0" y1="245.0" x2="2047.9" y2="242.1" stroke="#8e948c" stroke-width="1" opacity="0.45"/><ellipse cx="1975" cy="298" rx="20" ry="14" fill="#ece8e4" opacity="0.55"/></g><path d="M1962.0,232.0 C1964.5,229.2 1971.5,227.7 1975.0,227.0 C1978.5,226.3 1982.2,225.0 1983.0,228.0 C1983.8,231.0 1981.8,240.2 1980.0,245.0 C1978.2,249.8 1974.7,255.3 1972.0,257.0 C1969.3,258.7 1966.0,257.2 1964.0,255.0 C1962.0,252.8 1960.3,247.8 1960.0,244.0 C1959.7,240.2 1959.5,234.8 1962.0,232.0Z" fill="#0a0a0a"/><path d="M1972,231 L1978,238" stroke="#9a9a9a" stroke-width="1.2"/>
<text class="rm" x="2025.5" y="328.0" font-size="25" fill="#ff0000">7</text>
<rect x="1889.6" y="351.8" width="155.0" height="260.6" fill="#000"/>
<defs><linearGradient id="g6p" x1="0" y1="0" x2="0" y2="1"><stop offset="0" stop-color="#5f5238"/><stop offset="0.35" stop-color="#7e6a5a"/><stop offset="0.6" stop-color="#a08a88"/><stop offset="1" stop-color="#8e7c78"/></linearGradient><pattern id="dots6" width="5" height="5" patternUnits="userSpaceOnUse"><circle cx="2.5" cy="2.5" r="1.2" fill="#d8cccc" opacity="0.75"/></pattern><linearGradient id="g6y" x1="0" y1="0" x2="0" y2="1"><stop offset="0" stop-color="#ecebc8"/><stop offset="1" stop-color="#cfc780"/></linearGradient></defs><path d="M1917.0,492.0 C1921.0,486.7 1937.8,488.7 1950.0,488.0 C1962.2,487.3 1977.0,487.0 1990.0,488.0 C2003.0,489.0 2022.7,488.7 2028.0,494.0 C2033.3,499.3 2024.2,511.5 2022.0,520.0 C2019.8,528.5 2017.3,535.8 2015.0,545.0 C2012.7,554.2 2012.2,566.2 2008.0,575.0 C2003.8,583.8 1995.5,593.8 1990.0,598.0 C1984.5,602.2 1980.0,598.7 1975.0,600.0 C1970.0,601.3 1965.0,605.3 1960.0,606.0 C1955.0,606.7 1948.7,606.7 1945.0,604.0 C1941.3,601.3 1941.8,595.7 1938.0,590.0 C1934.2,584.3 1925.0,574.7 1922.0,570.0 C1919.0,565.3 1918.8,566.5 1920.0,562.0 C1921.2,557.5 1928.0,550.0 1929.0,543.0 C1930.0,536.0 1928.0,528.5 1926.0,520.0 C1924.0,511.5 1913.0,497.3 1917.0,492.0Z" fill="url(#g6p)"/><path d="M1917.0,492.0 C1921.0,486.7 1937.8,488.7 1950.0,488.0 C1962.2,487.3 1977.0,487.0 1990.0,488.0 C2003.0,489.0 2022.7,488.7 2028.0,494.0 C2033.3,499.3 2024.2,511.5 2022.0,520.0 C2019.8,528.5 2017.3,535.8 2015.0,545.0 C2012.7,554.2 2012.2,566.2 2008.0,575.0 C2003.8,583.8 1995.5,593.8 1990.0,598.0 C1984.5,602.2 1980.0,598.7 1975.0,600.0 C1970.0,601.3 1965.0,605.3 1960.0,606.0 C1955.0,606.7 1948.7,606.7 1945.0,604.0 C1941.3,601.3 1941.8,595.7 1938.0,590.0 C1934.2,584.3 1925.0,574.7 1922.0,570.0 C1919.0,565.3 1918.8,566.5 1920.0,562.0 C1921.2,557.5 1928.0,550.0 1929.0,543.0 C1930.0,536.0 1928.0,528.5 1926.0,520.0 C1924.0,511.5 1913.0,497.3 1917.0,492.0Z" fill="url(#dots6)" opacity="0.55"/><path d="M1910.1,392.0 C1910.5,387.7 1913.6,392.2 1915.0,397.0 C1916.4,401.8 1922.0,431.0 1924.0,440.0 C1926.0,449.0 1936.3,481.0 1935.3,486.7 C1934.3,492.4 1916.4,502.1 1914.0,497.4 C1911.6,492.7 1911.4,450.5 1911.0,440.0 C1910.6,429.5 1909.7,396.3 1910.1,392.0Z" fill="url(#g6y)" stroke="#2a2a20" stroke-width="1"/><path d="M1952.0,364.8 C1954.5,359.6 1956.5,362.5 1958.0,368.0 C1959.5,373.5 1966.2,410.3 1967.0,420.0 C1967.8,429.7 1970.1,460.7 1966.0,465.4 C1961.9,470.1 1929.4,471.4 1926.1,466.9 C1922.8,462.4 1930.4,430.2 1933.0,420.0 C1935.6,409.8 1949.5,370.0 1952.0,364.8Z" fill="url(#g6y)" stroke="#2a2a20" stroke-width="1"/><path d="M1967.3,419.7 C1968.0,418.1 1970.1,418.5 1971.0,424.0 C1971.9,429.5 1977.4,469.3 1976.4,474.5 C1975.4,479.7 1962.4,479.4 1961.2,476.0 C1960.0,472.6 1963.4,445.6 1964.0,440.0 C1964.6,434.4 1966.6,421.3 1967.3,419.7Z" fill="url(#g6y)" stroke="#2a2a20" stroke-width="1"/><path d="M1970.3,404.4 C1971.1,401.4 1979.2,406.4 1982.0,410.0 C1984.8,413.6 1995.0,433.9 1998.0,440.0 C2001.0,446.1 2013.7,467.9 2011.5,471.5 C2009.3,475.1 1980.2,479.1 1976.4,476.0 C1972.7,472.9 1974.6,447.2 1974.0,440.0 C1973.4,432.8 1969.5,407.4 1970.3,404.4Z" fill="url(#g6y)" stroke="#2a2a20" stroke-width="1"/><path d="M2005.4,433.4 C2005.6,431.9 2012.8,441.3 2015.0,445.0 C2017.2,448.7 2025.7,464.9 2027.0,470.0 C2028.3,475.1 2029.1,493.8 2028.2,495.9 C2027.3,498.0 2019.1,494.9 2017.6,491.3 C2016.1,487.7 2014.2,465.8 2013.0,460.0 C2011.8,454.2 2005.2,434.9 2005.4,433.4Z" fill="url(#g6y)" stroke="#2a2a20" stroke-width="1"/><path d="M1938.0,384 Q1951,377 1963.0,384" fill="none" stroke="#b8b070" stroke-width="0.9" opacity="0.7"/><path d="M1937.4,393 Q1951,386 1963.3,393" fill="none" stroke="#b8b070" stroke-width="0.9" opacity="0.7"/><path d="M1936.8,402 Q1951,395 1963.6,402" fill="none" stroke="#b8b070" stroke-width="0.9" opacity="0.7"/><path d="M1936.2,411 Q1951,404 1963.9,411" fill="none" stroke="#b8b070" stroke-width="0.9" opacity="0.7"/><path d="M1935.6,420 Q1951,413 1964.2,420" fill="none" stroke="#b8b070" stroke-width="0.9" opacity="0.7"/><path d="M1935.0,429 Q1951,422 1964.5,429" fill="none" stroke="#b8b070" stroke-width="0.9" opacity="0.7"/><path d="M1934.4,438 Q1951,431 1964.8,438" fill="none" stroke="#b8b070" stroke-width="0.9" opacity="0.7"/><path d="M1933.8,447 Q1951,440 1965.1,447" fill="none" stroke="#b8b070" stroke-width="0.9" opacity="0.7"/><path d="M1933.2,456 Q1951,449 1965.4,456" fill="none" stroke="#b8b070" stroke-width="0.9" opacity="0.7"/><path d="M1932.6,465 Q1951,458 1965.7,465" fill="none" stroke="#b8b070" stroke-width="0.9" opacity="0.7"/><path d="M1946,370 L1952,364 L1960,368 L1958,376 L1948,377Z" fill="#9c2a24"/><path d="M1909,394 L1912,390 L1916,396 L1915,404 L1910,403Z" fill="#9c2a24"/><path d="M1966,420 L1970,418 L1972,428 L1967,428Z" fill="#9c2a24"/><path d="M1972,404 L1985,410 L1980,416 L1972,412Z" fill="#6a7080"/><rect x="1915.0" y="472.1" width="6.4" height="17.7" fill="#c2c4c8" stroke="#1e1e1e" stroke-width="1"/><rect x="1923.4" y="475.8" width="6.0" height="18.8" fill="#c2c4c8" stroke="#1e1e1e" stroke-width="1"/><rect x="1931.4" y="473.4" width="6.2" height="18.7" fill="#c2c4c8" stroke="#1e1e1e" stroke-width="1"/><rect x="1939.6" y="472.0" width="7.2" height="13.8" fill="#c2c4c8" stroke="#1e1e1e" stroke-width="1"/><rect x="1948.8" y="476.4" width="5.5" height="17.8" fill="#c2c4c8" stroke="#1e1e1e" stroke-width="1"/><rect x="1956.2" y="476.0" width="5.4" height="18.9" fill="#c2c4c8" stroke="#1e1e1e" stroke-width="1"/><rect x="1963.7" y="473.1" width="7.0" height="16.3" fill="#c2c4c8" stroke="#1e1e1e" stroke-width="1"/><rect x="1972.7" y="471.1" width="5.4" height="18.8" fill="#c2c4c8" stroke="#1e1e1e" stroke-width="1"/><rect x="1980.1" y="474.2" width="6.9" height="18.6" fill="#c2c4c8" stroke="#1e1e1e" stroke-width="1"/><rect x="1989.0" y="476.2" width="6.3" height="18.0" fill="#c2c4c8" stroke="#1e1e1e" stroke-width="1"/><rect x="1997.3" y="472.5" width="5.6" height="14.8" fill="#c2c4c8" stroke="#1e1e1e" stroke-width="1"/><rect x="2004.9" y="474.5" width="5.7" height="14.6" fill="#c2c4c8" stroke="#1e1e1e" stroke-width="1"/><rect x="2012.7" y="471.8" width="6.3" height="18.5" fill="#c2c4c8" stroke="#1e1e1e" stroke-width="1"/><rect x="2020.9" y="473.7" width="6.1" height="16.5" fill="#c2c4c8" stroke="#1e1e1e" stroke-width="1"/>
<text class="rm" x="2026.5" y="598.7" font-size="25" fill="#ff0000">6</text>
<rect x="1889.6" y="625.5" width="155.0" height="264.3" fill="#000"/>
<defs><linearGradient id="g5" x1="0.3" y1="0" x2="0.5" y2="1"><stop offset="0" stop-color="#cc8f8c"/><stop offset="0.45" stop-color="#cf9c88"/><stop offset="0.8" stop-color="#c49276"/><stop offset="1" stop-color="#c08266"/></linearGradient><linearGradient id="g5p" x1="0" y1="0" x2="0" y2="1"><stop offset="0" stop-color="#b87a5a"/><stop offset="1" stop-color="#a07050"/></linearGradient><pattern id="dots5" width="5" height="4" patternUnits="userSpaceOnUse"><circle cx="2.5" cy="2" r="1.2" fill="#d66a40" opacity="0.8"/></pattern></defs><path d="M2014.5,642.9 C2019.1,643.7 2018.0,652.1 2017.6,660.0 C2017.2,667.9 2013.8,678.9 2012.0,690.0 C2010.2,701.1 2007.2,713.0 2006.9,726.7 C2006.6,740.4 2009.0,761.0 2010.0,772.4 C2011.0,783.8 2013.5,789.7 2013.0,795.3 C2012.5,800.9 2015.7,803.2 2006.9,806.0 C1998.1,808.8 1975.5,812.0 1960.0,812.0 C1944.5,812.0 1921.4,812.6 1914.0,806.0 C1906.6,799.4 1914.0,785.6 1915.5,772.4 C1917.0,759.2 1919.3,739.4 1923.1,726.7 C1926.9,714.0 1931.2,705.1 1938.3,696.2 C1945.4,687.3 1957.2,680.2 1965.8,673.3 C1974.4,666.4 1981.9,660.1 1990.0,655.0 C1998.1,649.9 2009.9,642.1 2014.5,642.9Z" fill="url(#g5)"/><path d="M1963.0,760.0 C1965.2,751.7 1968.8,743.0 1975.0,735.0 C1981.2,727.0 1994.8,707.8 2000.0,712.0 C2005.2,716.2 2006.3,747.0 2006.0,760.0 C2005.7,773.0 2003.2,784.2 1998.0,790.0 C1992.8,795.8 1981.0,795.8 1975.0,795.0 C1969.0,794.2 1964.0,790.8 1962.0,785.0 C1960.0,779.2 1960.8,768.3 1963.0,760.0Z" fill="#d3b896" opacity="0.9" stroke="#8a6a4a" stroke-width="0.8"/><path d="M1930.0,760.0 C1934.5,754.5 1949.5,749.5 1955.0,752.0 C1960.5,754.5 1961.8,767.0 1963.0,775.0 C1964.2,783.0 1965.8,795.8 1962.0,800.0 C1958.2,804.2 1945.7,802.5 1940.0,800.0 C1934.3,797.5 1929.7,791.7 1928.0,785.0 C1926.3,778.3 1925.5,765.5 1930.0,760.0Z" fill="#d98a6a" opacity="0.7"/><path d="M1914.0,790.0 C1916.8,786.7 1926.5,785.7 1935.0,786.0 C1943.5,786.3 1952.2,791.7 1965.0,792.0 C1977.8,792.3 2004.8,786.2 2012.0,788.0 C2019.2,789.8 2016.7,800.0 2008.0,803.0 C1999.3,806.0 1975.0,805.5 1960.0,806.0 C1945.0,806.5 1925.7,808.7 1918.0,806.0 C1910.3,803.3 1911.2,793.3 1914.0,790.0Z" fill="#d0805c" opacity="0.85"/><path d="M1918.0,803.0 C1924.4,800.0 1988.0,797.3 1996.0,800.0 C2004.0,802.7 1998.3,825.0 1998.0,830.0 C1997.7,835.0 1998.8,847.8 1993.0,850.0 C1987.2,852.2 1946.1,854.0 1940.0,852.0 C1933.9,850.0 1934.2,834.9 1932.0,830.0 C1929.8,825.1 1911.6,806.0 1918.0,803.0Z" fill="url(#g5p)"/><path d="M1918.0,803.0 C1924.4,800.0 1988.0,797.3 1996.0,800.0 C2004.0,802.7 1998.3,825.0 1998.0,830.0 C1997.7,835.0 1998.8,847.8 1993.0,850.0 C1987.2,852.2 1946.1,854.0 1940.0,852.0 C1933.9,850.0 1934.2,834.9 1932.0,830.0 C1929.8,825.1 1911.6,806.0 1918.0,803.0Z" fill="url(#dots5)" opacity="0.6"/><path d="M1937.0,848.0 C1942.2,845.8 1984.5,844.2 1990.0,846.0 C1995.5,847.8 1992.8,862.9 1992.0,866.0 C1991.2,869.1 1986.2,875.9 1982.0,877.0 C1977.8,878.1 1954.4,877.9 1950.0,877.0 C1945.6,876.1 1939.3,870.9 1938.0,868.0 C1936.7,865.1 1931.8,850.2 1937.0,848.0Z" fill="#bba060"/><circle cx="1960" cy="860" r="4" fill="#7a6030"/>
<text class="rm" x="2027.2" y="884.4" font-size="25" fill="#ff0000">5</text>
<rect x="1889.6" y="901.8" width="155.0" height="359.5" fill="#000"/>
<defs><linearGradient id="g4" x1="0" y1="0" x2="1" y2="0"><stop offset="0" stop-color="#bdb99c"/><stop offset="0.45" stop-color="#d8d5c2"/><stop offset="1" stop-color="#e3e2da"/></linearGradient><linearGradient id="g4p" x1="0" y1="0" x2="1" y2="0"><stop offset="0" stop-color="#a09e88"/><stop offset="0.5" stop-color="#d0cdbc"/><stop offset="1" stop-color="#b4b29e"/></linearGradient></defs><path d="M1952.7,1104.0 C1958.2,1097.0 1988.6,1095.3 1993.7,1102.0 C1998.8,1108.7 1997.4,1148.7 1996.7,1161.6 C1996.0,1174.5 1989.5,1203.5 1987.5,1212.8 C1985.5,1222.1 1982.9,1237.4 1979.3,1241.5 C1975.7,1245.6 1961.5,1247.9 1956.8,1247.7 C1952.1,1247.5 1941.3,1243.6 1939.3,1239.5 C1937.3,1235.4 1938.5,1221.9 1939.3,1212.8 C1940.1,1203.7 1944.9,1174.3 1946.5,1161.6 C1948.1,1148.9 1947.2,1111.0 1952.7,1104.0Z" fill="url(#g4p)"/><path d="M1937.3,910.4 C1941.9,912.0 1958.9,924.9 1967.0,931.9 C1975.1,938.9 1991.8,952.6 1997.8,962.7 C2003.8,972.8 2009.6,997.1 2012.1,1007.8 C2014.6,1018.5 2016.2,1033.6 2016.2,1042.6 C2016.2,1051.6 2014.3,1068.8 2012.1,1075.4 C2009.9,1082.0 2002.7,1088.5 2000.0,1091.8 C1997.3,1095.1 1996.5,1098.6 1991.6,1100.0 C1986.7,1101.4 1968.9,1101.3 1962.9,1102.1 C1956.9,1102.9 1950.6,1110.6 1946.5,1106.2 C1942.4,1101.8 1935.5,1078.3 1932.2,1069.3 C1928.9,1060.3 1923.8,1048.1 1921.9,1038.5 C1920.0,1028.9 1917.3,1008.6 1917.8,997.5 C1918.3,986.4 1924.1,965.4 1926.0,955.0 C1927.9,944.6 1930.7,925.5 1932.2,919.6 C1933.7,913.7 1932.7,908.8 1937.3,910.4Z" fill="url(#g4)"/><clipPath id="c4"><path d="M1937.3,910.4 C1941.9,912.0 1958.9,924.9 1967.0,931.9 C1975.1,938.9 1991.8,952.6 1997.8,962.7 C2003.8,972.8 2009.6,997.1 2012.1,1007.8 C2014.6,1018.5 2016.2,1033.6 2016.2,1042.6 C2016.2,1051.6 2014.3,1068.8 2012.1,1075.4 C2009.9,1082.0 2002.7,1088.5 2000.0,1091.8 C1997.3,1095.1 1996.5,1098.6 1991.6,1100.0 C1986.7,1101.4 1968.9,1101.3 1962.9,1102.1 C1956.9,1102.9 1950.6,1110.6 1946.5,1106.2 C1942.4,1101.8 1935.5,1078.3 1932.2,1069.3 C1928.9,1060.3 1923.8,1048.1 1921.9,1038.5 C1920.0,1028.9 1917.3,1008.6 1917.8,997.5 C1918.3,986.4 1924.1,965.4 1926.0,955.0 C1927.9,944.6 1930.7,925.5 1932.2,919.6 C1933.7,913.7 1932.7,908.8 1937.3,910.4Z"/></clipPath><g clip-path="url(#c4)"><path d="M1922,995 Q1950,990 2010,960" fill="none" stroke="#f2f1ea" stroke-width="1.2" opacity="0.5"/><path d="M1924,1005 Q1953,996 2008,974" fill="none" stroke="#f2f1ea" stroke-width="1.2" opacity="0.5"/><path d="M1926,1015 Q1956,1002 2006,988" fill="none" stroke="#f2f1ea" stroke-width="1.2" opacity="0.5"/><path d="M1928,1025 Q1959,1008 2004,1002" fill="none" stroke="#f2f1ea" stroke-width="1.2" opacity="0.5"/><path d="M1930,1035 Q1962,1014 2002,1016" fill="none" stroke="#f2f1ea" stroke-width="1.2" opacity="0.5"/><path d="M1932,1045 Q1965,1020 2000,1030" fill="none" stroke="#f2f1ea" stroke-width="1.2" opacity="0.5"/><path d="M1934,1055 Q1968,1026 1998,1044" fill="none" stroke="#f2f1ea" stroke-width="1.2" opacity="0.5"/><path d="M1936,1065 Q1971,1032 1996,1058" fill="none" stroke="#f2f1ea" stroke-width="1.2" opacity="0.5"/><path d="M1938,1075 Q1974,1038 1994,1072" fill="none" stroke="#f2f1ea" stroke-width="1.2" opacity="0.5"/><ellipse cx="1998" cy="1060" rx="14" ry="22" fill="#eeeeea" opacity="0.6"/></g>
<text class="rm" x="2025.5" y="1248.7" font-size="25" fill="#ff0000">4</text>
<rect x="1889.6" y="1270.3" width="155.0" height="185.7" fill="#000"/>
<path d="M1906.1,1329.3 L1912.0,1336.0 L1952.0,1401.1 L1945.5,1402.2 L1915.2,1351.4Z" fill="#dcd8c6"/><path d="M1941.2,1285.5 L1947.6,1283.4 L1977.9,1316.8 L1977.9,1400.0 L1952.0,1401.1 L1921.7,1349.2Z" fill="#e7e5d9"/><path d="M1974.6,1307.1 L1982.2,1310.4 L2012.4,1382.7 L1985.4,1402.2 L1977.9,1401.1Z" fill="#e2dccb"/><path d="M1960.0,1372.0 L1970.0,1366.0 L1978.0,1401.0 L1952.0,1401.0Z" fill="#d8c49c"/><path d="M2034.6,1383.3 L1987.6,1405.4 L1982.2,1401.1 L2014.6,1387.0Z" fill="#e0ddd0"/><path d="M1923.0,1405.0 C1926.7,1401.7 1939.7,1399.2 1950.0,1398.0 C1960.3,1396.8 1975.7,1396.0 1985.0,1398.0 C1994.3,1400.0 2002.7,1405.5 2006.0,1410.0 C2009.3,1414.5 2007.7,1420.3 2005.0,1425.0 C2002.3,1429.7 1995.5,1434.5 1990.0,1438.0 C1984.5,1441.5 1978.7,1445.0 1972.0,1446.0 C1965.3,1447.0 1956.2,1446.3 1950.0,1444.0 C1943.8,1441.7 1938.7,1436.3 1935.0,1432.0 C1931.3,1427.7 1930.0,1422.5 1928.0,1418.0 C1926.0,1413.5 1919.3,1408.3 1923.0,1405.0Z" fill="#e4e2d6"/><path d="M1928,1410 Q1965,1404 2003,1410" fill="none" stroke="#a8a494" stroke-width="1" opacity="0.7"/><path d="M1931,1419 Q1965,1413 2000,1419" fill="none" stroke="#a8a494" stroke-width="1" opacity="0.7"/><path d="M1934,1428 Q1965,1422 1997,1428" fill="none" stroke="#a8a494" stroke-width="1" opacity="0.7"/><path d="M1937,1437 Q1965,1431 1994,1437" fill="none" stroke="#a8a494" stroke-width="1" opacity="0.7"/><path d="M1950,1295 L1962,1340 M1958,1292 L1975,1320" stroke="#c4a97a" stroke-width="1.5" opacity="0.6"/>
<text class="rm" x="2027.6" y="1442.1" font-size="25" fill="#ff0000">3</text>
<rect x="1889.6" y="1464.0" width="155.0" height="169.6" fill="#000"/>
<defs><radialGradient id="g2" cx="0.55" cy="0.5" r="0.6"><stop offset="0" stop-color="#dfd6be"/><stop offset="0.8" stop-color="#d2c6a6"/><stop offset="1" stop-color="#a89a78"/></radialGradient></defs><path d="M1947.8,1470.0 C1952.7,1469.1 1964.2,1475.9 1969.7,1478.9 C1975.2,1481.9 1978.7,1485.2 1984.7,1489.9 C1990.7,1494.6 2004.7,1503.9 2009.6,1509.9 C2014.5,1515.9 2015.2,1525.9 2017.6,1529.8 C2020.0,1533.7 2024.8,1529.1 2025.6,1535.8 C2026.3,1542.5 2024.2,1565.1 2022.6,1574.7 C2020.9,1584.3 2018.8,1594.1 2014.6,1599.6 C2010.4,1605.1 2000.7,1609.0 1994.7,1611.5 C1988.7,1614.0 1982.2,1616.8 1974.7,1616.5 C1967.2,1616.2 1952.3,1612.0 1944.8,1609.5 C1937.3,1607.0 1930.1,1602.6 1924.9,1599.6 C1919.7,1596.6 1912.6,1594.1 1909.9,1589.6 C1907.2,1585.1 1906.3,1576.7 1906.9,1569.7 C1907.5,1562.7 1912.2,1553.0 1913.9,1542.8 C1915.6,1532.6 1916.0,1506.8 1917.9,1501.9 C1919.9,1497.0 1924.1,1512.5 1926.9,1509.9 C1929.7,1507.4 1933.7,1490.9 1936.8,1484.9 C1939.9,1478.9 1942.9,1470.9 1947.8,1470.0Z" fill="url(#g2)"/><path d="M1930,1512 Q1950,1545 1975,1560" fill="none" stroke="#8c7048" stroke-width="1.3" opacity="0.7"/><path d="M1970,1482 Q1975,1520 1972,1560" fill="none" stroke="#8c7048" stroke-width="1.3" opacity="0.7"/><path d="M1915,1545 Q1950,1560 1990,1565" fill="none" stroke="#8c7048" stroke-width="1.3" opacity="0.7"/><path d="M1975,1560 Q2000,1575 2020,1572" fill="none" stroke="#8c7048" stroke-width="1.3" opacity="0.7"/><path d="M1935,1565 Q1945,1590 1955,1610" fill="none" stroke="#8c7048" stroke-width="1.3" opacity="0.7"/><path d="M1965,1570 Q1985,1590 2000,1608" fill="none" stroke="#8c7048" stroke-width="1.3" opacity="0.7"/><path d="M1912,1580 Q1935,1575 1950,1590" fill="none" stroke="#8c7048" stroke-width="1.3" opacity="0.7"/><path d="M1995,1545 Q2010,1540 2022,1536" fill="none" stroke="#8c7048" stroke-width="1.3" opacity="0.7"/><circle cx="2005.4" cy="1534.7" r="0.7" fill="#8a6a3a" opacity="0.6"/><circle cx="2006.8" cy="1545.2" r="0.7" fill="#8a6a3a" opacity="0.6"/><circle cx="1968.2" cy="1548.1" r="0.7" fill="#8a6a3a" opacity="0.6"/><circle cx="1916.9" cy="1537.2" r="0.7" fill="#8a6a3a" opacity="0.6"/><circle cx="1933.3" cy="1480.5" r="0.7" fill="#8a6a3a" opacity="0.6"/><circle cx="1994.9" cy="1502.4" r="0.7" fill="#8a6a3a" opacity="0.6"/><circle cx="1962.3" cy="1574.3" r="0.7" fill="#8a6a3a" opacity="0.6"/><circle cx="1970.6" cy="1522.4" r="0.7" fill="#8a6a3a" opacity="0.6"/><circle cx="1966.8" cy="1552.2" r="0.7" fill="#8a6a3a" opacity="0.6"/><circle cx="1993.4" cy="1493.8" r="0.7" fill="#8a6a3a" opacity="0.6"/><circle cx="1971.0" cy="1512.3" r="0.7" fill="#8a6a3a" opacity="0.6"/><circle cx="1942.7" cy="1580.4" r="0.7" fill="#8a6a3a" opacity="0.6"/><circle cx="1965.8" cy="1553.0" r="0.7" fill="#8a6a3a" opacity="0.6"/><circle cx="1991.0" cy="1598.6" r="0.7" fill="#8a6a3a" opacity="0.6"/><circle cx="1959.3" cy="1559.6" r="0.7" fill="#8a6a3a" opacity="0.6"/><circle cx="1965.6" cy="1546.6" r="0.7" fill="#8a6a3a" opacity="0.6"/><circle cx="1984.3" cy="1538.8" r="0.7" fill="#8a6a3a" opacity="0.6"/><circle cx="1968.3" cy="1542.1" r="0.7" fill="#8a6a3a" opacity="0.6"/><circle cx="2009.2" cy="1570.9" r="0.7" fill="#8a6a3a" opacity="0.6"/><circle cx="2002.7" cy="1602.5" r="0.7" fill="#8a6a3a" opacity="0.6"/><circle cx="1941.0" cy="1552.7" r="0.7" fill="#8a6a3a" opacity="0.6"/><circle cx="2009.3" cy="1589.2" r="0.7" fill="#8a6a3a" opacity="0.6"/><circle cx="1928.7" cy="1495.8" r="0.7" fill="#8a6a3a" opacity="0.6"/><circle cx="1959.2" cy="1489.4" r="0.7" fill="#8a6a3a" opacity="0.6"/><circle cx="1939.1" cy="1489.5" r="0.7" fill="#8a6a3a" opacity="0.6"/><circle cx="1981.9" cy="1581.9" r="0.7" fill="#8a6a3a" opacity="0.6"/><circle cx="2004.7" cy="1500.1" r="0.7" fill="#8a6a3a" opacity="0.6"/><circle cx="1986.6" cy="1565.8" r="0.7" fill="#8a6a3a" opacity="0.6"/><circle cx="1929.3" cy="1594.8" r="0.7" fill="#8a6a3a" opacity="0.6"/><circle cx="2011.8" cy="1508.5" r="0.7" fill="#8a6a3a" opacity="0.6"/><circle cx="2010.3" cy="1531.8" r="0.7" fill="#8a6a3a" opacity="0.6"/><circle cx="1963.7" cy="1608.7" r="0.7" fill="#8a6a3a" opacity="0.6"/><circle cx="1998.2" cy="1501.0" r="0.7" fill="#8a6a3a" opacity="0.6"/><circle cx="1958.2" cy="1547.0" r="0.7" fill="#8a6a3a" opacity="0.6"/><circle cx="1948.9" cy="1505.4" r="0.7" fill="#8a6a3a" opacity="0.6"/><circle cx="1946.9" cy="1573.9" r="0.7" fill="#8a6a3a" opacity="0.6"/><circle cx="1916.9" cy="1552.0" r="0.7" fill="#8a6a3a" opacity="0.6"/><circle cx="1959.0" cy="1482.4" r="0.7" fill="#8a6a3a" opacity="0.6"/><circle cx="1948.1" cy="1561.1" r="0.7" fill="#8a6a3a" opacity="0.6"/><circle cx="1966.2" cy="1488.4" r="0.7" fill="#8a6a3a" opacity="0.6"/><circle cx="2013.5" cy="1582.5" r="0.7" fill="#8a6a3a" opacity="0.6"/><circle cx="2012.2" cy="1493.6" r="0.7" fill="#8a6a3a" opacity="0.6"/><circle cx="1941.6" cy="1485.1" r="0.7" fill="#8a6a3a" opacity="0.6"/><circle cx="1992.9" cy="1515.2" r="0.7" fill="#8a6a3a" opacity="0.6"/><circle cx="1928.0" cy="1534.9" r="0.7" fill="#8a6a3a" opacity="0.6"/><circle cx="2006.1" cy="1586.5" r="0.7" fill="#8a6a3a" opacity="0.6"/><circle cx="1940.9" cy="1499.4" r="0.7" fill="#8a6a3a" opacity="0.6"/><circle cx="2006.9" cy="1554.2" r="0.7" fill="#8a6a3a" opacity="0.6"/><circle cx="1985.0" cy="1491.6" r="0.7" fill="#8a6a3a" opacity="0.6"/><circle cx="1920.8" cy="1569.5" r="0.7" fill="#8a6a3a" opacity="0.6"/><circle cx="1957.5" cy="1489.4" r="0.7" fill="#8a6a3a" opacity="0.6"/><circle cx="2008.8" cy="1562.5" r="0.7" fill="#8a6a3a" opacity="0.6"/><circle cx="1995.2" cy="1490.9" r="0.7" fill="#8a6a3a" opacity="0.6"/><circle cx="2000.6" cy="1488.7" r="0.7" fill="#8a6a3a" opacity="0.6"/><circle cx="2001.3" cy="1539.0" r="0.7" fill="#8a6a3a" opacity="0.6"/><circle cx="1948.9" cy="1551.9" r="0.7" fill="#8a6a3a" opacity="0.6"/><circle cx="2007.7" cy="1514.8" r="0.7" fill="#8a6a3a" opacity="0.6"/><circle cx="1927.9" cy="1548.5" r="0.7" fill="#8a6a3a" opacity="0.6"/><circle cx="1938.8" cy="1494.2" r="0.7" fill="#8a6a3a" opacity="0.6"/><circle cx="1931.1" cy="1486.5" r="0.7" fill="#8a6a3a" opacity="0.6"/><circle cx="1935.2" cy="1520.6" r="0.7" fill="#8a6a3a" opacity="0.6"/><circle cx="1945.5" cy="1578.7" r="0.7" fill="#8a6a3a" opacity="0.6"/><circle cx="1944.0" cy="1545.0" r="0.7" fill="#8a6a3a" opacity="0.6"/><circle cx="1932.8" cy="1525.1" r="0.7" fill="#8a6a3a" opacity="0.6"/><circle cx="1916.8" cy="1512.6" r="0.7" fill="#8a6a3a" opacity="0.6"/><circle cx="1916.5" cy="1575.3" r="0.7" fill="#8a6a3a" opacity="0.6"/><circle cx="1970.1" cy="1504.6" r="0.7" fill="#8a6a3a" opacity="0.6"/><circle cx="1962.5" cy="1601.5" r="0.7" fill="#8a6a3a" opacity="0.6"/><circle cx="1925.6" cy="1586.5" r="0.7" fill="#8a6a3a" opacity="0.6"/><circle cx="1958.2" cy="1544.4" r="0.7" fill="#8a6a3a" opacity="0.6"/><circle cx="1998.5" cy="1531.1" r="0.7" fill="#8a6a3a" opacity="0.6"/><circle cx="1965.7" cy="1569.4" r="0.7" fill="#8a6a3a" opacity="0.6"/><circle cx="2013.2" cy="1524.6" r="0.7" fill="#8a6a3a" opacity="0.6"/><circle cx="1998.2" cy="1571.9" r="0.7" fill="#8a6a3a" opacity="0.6"/><circle cx="1978.6" cy="1532.6" r="0.7" fill="#8a6a3a" opacity="0.6"/><circle cx="1949.8" cy="1487.1" r="0.7" fill="#8a6a3a" opacity="0.6"/><circle cx="1928.0" cy="1489.2" r="0.7" fill="#8a6a3a" opacity="0.6"/><circle cx="1989.1" cy="1513.2" r="0.7" fill="#8a6a3a" opacity="0.6"/><circle cx="1931.3" cy="1491.0" r="0.7" fill="#8a6a3a" opacity="0.6"/><circle cx="1999.1" cy="1593.2" r="0.7" fill="#8a6a3a" opacity="0.6"/>
<text class="rm" x="2028.1" y="1621.0" font-size="25" fill="#ff0000">2</text>
<rect x="1889.6" y="1643.8" width="157.4" height="158.5" fill="#000"/>
<defs><radialGradient id="g1" cx="0.5" cy="0.55" r="0.6"><stop offset="0" stop-color="#e0dac4"/><stop offset="0.8" stop-color="#d2c9a8"/><stop offset="1" stop-color="#a89e80"/></radialGradient></defs><path d="M1952.8,1660.6 C1956.5,1659.1 1964.6,1659.3 1966.9,1660.6 C1969.2,1661.9 1974.0,1672.8 1975.4,1673.8 C1976.8,1674.8 1978.8,1670.3 1981.1,1671.0 C1983.4,1671.7 1994.2,1675.5 1998.0,1680.4 C2001.8,1685.3 2014.8,1715.9 2018.7,1720.0 C2022.6,1724.1 2036.3,1719.6 2036.6,1721.8 C2036.9,1724.0 2023.3,1736.8 2021.6,1741.6 C2019.9,1746.4 2018.5,1765.2 2019.7,1769.9 C2020.9,1774.6 2036.0,1787.1 2033.8,1788.7 C2031.6,1790.3 2004.9,1785.9 1998.0,1785.9 C1991.1,1785.9 1970.8,1788.2 1965.1,1788.7 C1959.4,1789.2 1944.1,1793.4 1941.5,1790.6 C1938.9,1787.8 1940.1,1766.2 1938.7,1760.4 C1937.3,1754.6 1931.1,1737.1 1927.4,1732.2 C1923.7,1727.3 1903.0,1714.3 1902.0,1711.5 C1901.0,1708.7 1914.2,1707.5 1917.0,1703.9 C1919.8,1700.3 1926.6,1680.0 1930.2,1675.7 C1933.8,1671.4 1949.1,1662.1 1952.8,1660.6Z" fill="url(#g1)"/><path d="M1935,1700 Q1955,1675 1975,1690" fill="none" stroke="#b8ae90" stroke-width="1" opacity="0.6"/><path d="M1940,1699 Q1958,1677 1977,1694" fill="none" stroke="#b8ae90" stroke-width="1" opacity="0.6"/><path d="M1945,1698 Q1961,1679 1979,1698" fill="none" stroke="#b8ae90" stroke-width="1" opacity="0.6"/><path d="M1950,1697 Q1964,1681 1981,1702" fill="none" stroke="#b8ae90" stroke-width="1" opacity="0.6"/><path d="M1955,1696 Q1967,1683 1983,1706" fill="none" stroke="#b8ae90" stroke-width="1" opacity="0.6"/><path d="M1960,1695 Q1970,1685 1985,1710" fill="none" stroke="#b8ae90" stroke-width="1" opacity="0.6"/><path d="M1965,1694 Q1973,1687 1987,1714" fill="none" stroke="#b8ae90" stroke-width="1" opacity="0.6"/><path d="M1905,1713 Q1950,1715 1975,1735 Q2000,1722 2035,1722" fill="none" stroke="#f0ece0" stroke-width="3" opacity="0.6"/><path d="M1945,1780 Q1975,1770 2010,1782" fill="none" stroke="#f4f2ec" stroke-width="2.5" opacity="0.7"/>
<text class="rm" x="2031.2" y="1795.3" font-size="25" fill="#ff0000">1</text>
</svg></body></html>
